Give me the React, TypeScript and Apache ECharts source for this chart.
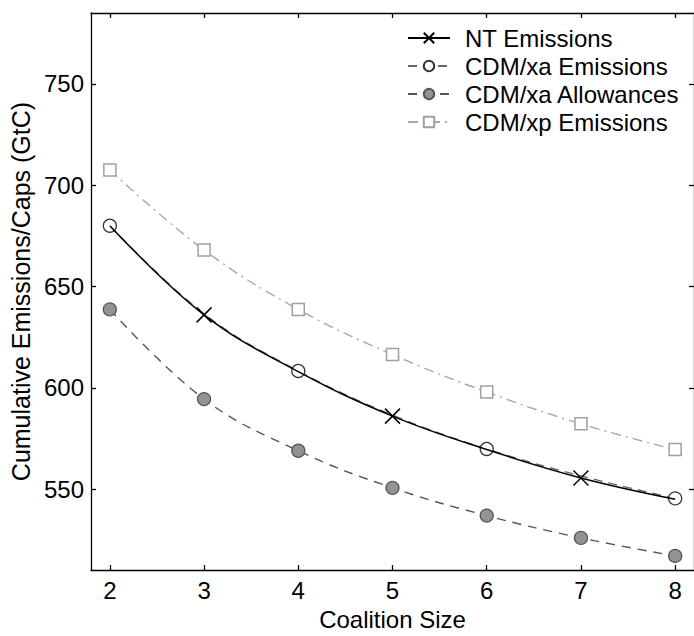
import React, { useEffect, useRef } from "react";
import * as echarts from "echarts";

const coalitionSizes = [2, 3, 4, 5, 6, 7, 8];
const ntEmissions = [680, 636, 608, 586, 569.5, 555.5, 545];
const cdmXaEmissions = [680, 636.5, 608.3, 586.5, 569.8, 556.5, 545.4];
const cdmXaAllowances = [638.7, 594.4, 568.9, 550.6, 536.9, 525.9, 517];
const cdmXpEmissions = [707.5, 668, 638.7, 616.4, 597.9, 582.2, 569.5];
const yTicks = [550, 600, 650, 700, 750];
const seriesNames = ["NT Emissions", "CDM/xa Emissions", "CDM/xa Allowances", "CDM/xp Emissions"];

const FONT = "Liberation Sans, Arial, Helvetica, sans-serif";
const CROSS = "path://M0,0L10,10M10,0L0,10";

export default function App() {
  const ref = useRef<HTMLDivElement>(null);
  useEffect(() => {
    if (!ref.current) return;
    const chart = echarts.init(ref.current, null, { renderer: "svg" });
    const pts = (vals: number[], show?: (i: number) => boolean) =>
      vals.map((v, i) =>
        show && !show(i)
          ? { value: [coalitionSizes[i], v], symbol: "none" }
          : { value: [coalitionSizes[i], v] }
      );
    const axisLineStyle = { color: "#000", width: 1.3 };
    chart.setOption({
      animation: false,
      backgroundColor: "#fff",
      textStyle: { fontFamily: FONT },
      grid: { left: 91, top: 13, right: -2, bottom: 62 },
      legend: {
        orient: "vertical",
        left: 402,
        top: 21,
        itemGap: 4,
        itemWidth: 42,
        itemHeight: 13,
        data: seriesNames,
        textStyle: { fontSize: 24, fontFamily: FONT, color: "#000", padding: [0, 0, 0, 10] },
      },
      xAxis: [
        {
          type: "value",
          min: 1.8,
          max: 8.2,
          name: "Coalition Size",
          nameLocation: "middle",
          nameGap: 32,
          nameTextStyle: { fontSize: 24, color: "#000", fontFamily: FONT },
          axisLine: { lineStyle: axisLineStyle },
          axisTick: { inside: true, length: 5, customValues: coalitionSizes, lineStyle: axisLineStyle },
          axisLabel: { customValues: coalitionSizes, fontSize: 24, color: "#000", margin: 8, fontFamily: FONT },
          splitLine: { show: false },
        },
        {
          type: "value",
          position: "top",
          min: 1.8,
          max: 8.2,
          axisLine: { lineStyle: axisLineStyle },
          axisTick: { inside: true, length: 5, customValues: coalitionSizes, lineStyle: axisLineStyle },
          axisLabel: { show: false },
          splitLine: { show: false },
        },
      ],
      yAxis: [
        {
          type: "value",
          min: 510,
          max: 785,
          name: "Cumulative Emissions/Caps (GtC)",
          nameLocation: "middle",
          nameGap: 54,
          nameTextStyle: { fontSize: 25, color: "#000", fontFamily: FONT },
          axisLine: { lineStyle: axisLineStyle },
          axisTick: { inside: true, length: 5, customValues: yTicks, lineStyle: axisLineStyle },
          axisLabel: { customValues: yTicks, fontSize: 24, color: "#000", margin: 7, fontFamily: FONT },
          splitLine: { show: false },
        },
        {
          type: "value",
          position: "right",
          min: 510,
          max: 785,
          axisLine: { lineStyle: axisLineStyle },
          axisTick: { inside: true, length: 5, customValues: yTicks, lineStyle: axisLineStyle },
          axisLabel: { show: false },
          splitLine: { show: false },
        },
      ],
      series: [
        {
          name: seriesNames[0],
          type: "line",
          z: 4,
          smooth: 0.4,
          data: pts(ntEmissions, (i) => i % 2 === 1),
          symbol: CROSS,
          symbolSize: 15,
          itemStyle: { color: "#000", borderColor: "#000", borderWidth: 1.5 },
          lineStyle: { color: "#000", width: 1.5, type: "solid" },
        },
        {
          name: seriesNames[1],
          type: "line",
          z: 3,
          smooth: 0.4,
          data: pts(cdmXaEmissions, (i) => i % 2 === 0),
          symbol: "circle",
          symbolSize: 13,
          itemStyle: { color: "#fff", borderColor: "#333", borderWidth: 1.3 },
          lineStyle: { color: "#666", width: 1.4, type: [9, 6] },
        },
        {
          name: seriesNames[2],
          type: "line",
          z: 2,
          smooth: 0.4,
          data: pts(cdmXaAllowances),
          symbol: "circle",
          symbolSize: 13,
          itemStyle: { color: "#939393", borderColor: "#555", borderWidth: 1.3 },
          lineStyle: { color: "#555", width: 1.4, type: [9, 7] },
        },
        {
          name: seriesNames[3],
          type: "line",
          z: 2,
          smooth: 0.4,
          data: pts(cdmXpEmissions),
          symbol: "rect",
          symbolSize: 12,
          itemStyle: { color: "#fff", borderColor: "#a0a0a0", borderWidth: 1.5 },
          lineStyle: { color: "#a8a8a8", width: 1.4, type: [10, 5, 2, 5] },
        },
      ],
    });
    return () => chart.dispose();
  }, []);
  return <div ref={ref} style={{ width: 694, height: 636, position: "absolute", left: 0, top: 0 }} />;
}
